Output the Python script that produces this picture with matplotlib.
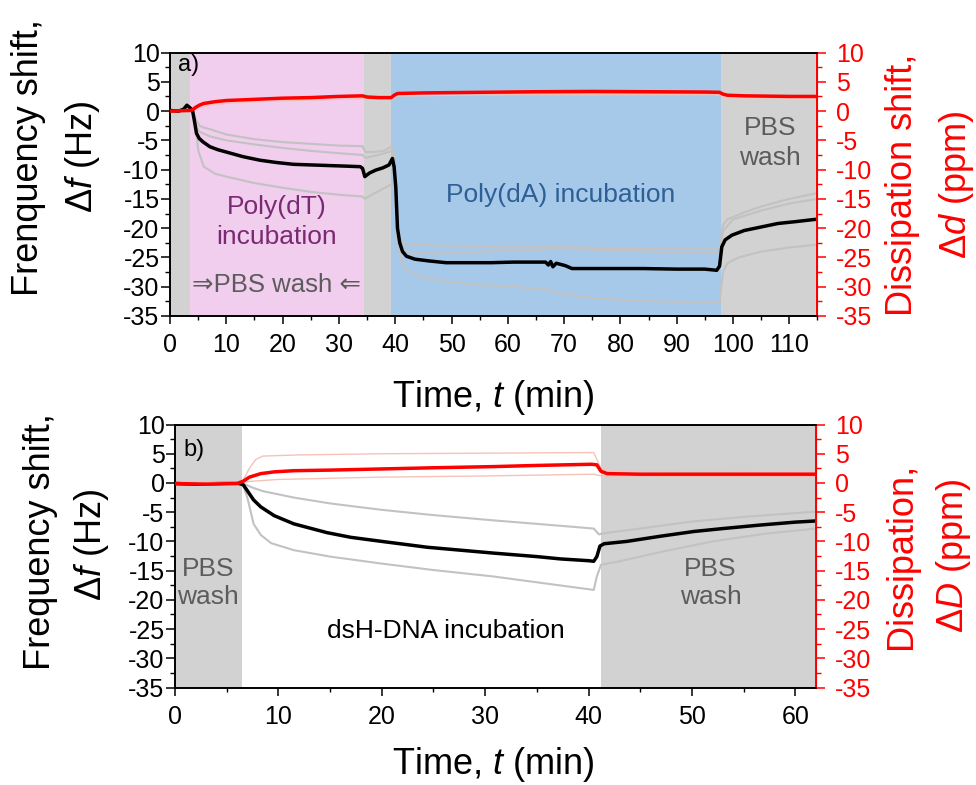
import matplotlib
matplotlib.use("Agg")
import matplotlib.pyplot as plt
from matplotlib.ticker import MultipleLocator

plt.rcParams['font.family'] = ['Liberation Sans', 'DejaVu Sans']
plt.rcParams['mathtext.fontset'] = 'custom'
plt.rcParams['mathtext.rm'] = 'Liberation Sans'
plt.rcParams['mathtext.it'] = 'Liberation Sans:italic'
plt.rcParams['axes.unicode_minus'] = False

# ---- panel a) data (time in min, df in Hz, dd in ppm) ----
a_phases = [(0, 3.5, 'gray'), (3.5, 34.4, 'pink'), (34.4, 39.3, 'gray'),
            (39.3, 97.8, 'blue'), (97.8, 115, 'gray')]

a_t_f = [0, 1.5, 2.4, 3.0, 3.5, 4.0, 4.3, 4.7, 5.2, 5.9, 7.1, 8.5, 10, 13, 16, 19, 22, 25,
         28, 31, 33.8, 34.2, 34.6, 35.4, 36.5, 37.8, 38.9, 39.5, 39.8, 40.1, 40.4, 40.8,
         41.3, 42, 43.5, 46, 49, 53, 57, 61, 64, 66.7, 67.2, 67.6, 68.0, 68.6, 69.4, 70.2,
         71.4, 74, 78, 84, 90, 95, 97.1, 97.6, 98.0, 98.6, 99.8, 102, 105, 108, 111, 114.6, 115]
a_f = [0.1, 0.0, 0.3, 1.0, 0.6, 0.1, -1.5, -3.8, -4.7, -5.3, -6.1, -6.6, -7.0, -7.8, -8.4,
       -8.8, -9.1, -9.2, -9.3, -9.4, -9.5, -9.8, -11.2, -10.6, -10.1, -9.7, -9.2, -8.1,
       -9.5, -13, -20, -22.5, -24.0, -24.8, -25.3, -25.6, -25.9, -25.9, -25.9, -25.8,
       -25.8, -25.8, -26.3, -25.7, -26.6, -26.0, -26.2, -26.4, -26.9, -26.9, -26.9, -26.9,
       -27.0, -27.0, -27.2, -26.5, -23.2, -22.0, -21.2, -20.4, -19.8, -19.2, -18.9, -18.5, -18.5]

a_t_g1 = [0, 3.5, 4.0, 4.6, 5.2, 5.9, 7.1, 10, 15, 20, 25, 30, 34.2, 34.7, 36, 38, 39.5,
          39.9, 40.4, 40.8, 42, 50, 60, 70, 80, 90, 97.6, 98.2, 99, 102, 105, 110, 115]
a_g1 = [0.0, 0.3, 0.0, -1.5, -2.5, -2.8, -3.1, -4.0, -4.8, -5.3, -5.6, -5.9, -6.0, -7.0,
        -7.0, -6.8, -6.0, -8, -20, -22.0, -22.8, -23.0, -23.2, -23.3, -23.4, -23.4, -23.4,
        -19.5, -18.5, -17.3, -16.3, -15.0, -14.0]

a_t_g2 = [0, 4.0, 4.6, 5.2, 7, 10, 15, 20, 25, 30, 34.2, 34.7, 37, 39.5, 39.9, 40.4, 41,
          43, 50, 60, 70, 80, 90, 97.6, 98.2, 100, 105, 110, 115]
a_g2 = [0.0, 0.0, -2.5, -3.5, -4.3, -5.0, -5.7, -6.3, -6.8, -7.2, -7.5, -8.0, -7.5, -6.8,
        -9, -21, -23.5, -24.3, -24.3, -23.8, -23.5, -23.8, -24.2, -24.3, -20.5, -18.5,
        -17.0, -15.8, -15.0]

a_t_g3 = [0, 4.0, 4.5, 5.0, 6.0, 8, 10, 15, 20, 25, 30, 34.2, 34.6, 36, 38, 39.5, 39.9,
          40.4, 41, 42, 44, 49, 55, 60, 66, 70, 75, 80, 90, 97.6, 98.2, 99, 101, 105, 110, 115]
a_g3 = [0.0, 0.0, -1.5, -6.7, -9.5, -10.7, -11.2, -12.3, -13.1, -13.8, -14.3, -14.6, -15.0,
        -14.2, -13.2, -12.4, -14, -22, -25.4, -27.0, -28.2, -29.1, -29.7, -30.0, -30.3,
        -31.3, -31.9, -32.3, -32.6, -32.7, -27.5, -26.0, -25.0, -24.0, -23.3, -22.8]

a_t_d = [0, 3.5, 4.0, 4.5, 5.2, 6, 8, 10, 15, 20, 25, 30, 34.2, 35, 37, 39.3, 39.8, 40.4,
         45, 55, 65, 75, 85, 95, 97.6, 98.2, 99, 102, 110, 115]
a_d = [0.0, 0.1, 0.2, 0.6, 1.0, 1.3, 1.6, 1.8, 2.0, 2.2, 2.3, 2.5, 2.6, 2.4, 2.3, 2.3, 2.7,
       3.0, 3.1, 3.2, 3.3, 3.35, 3.3, 3.25, 3.2, 2.9, 2.7, 2.6, 2.5, 2.5]

a_t_d2 = [0, 4.0, 5.0, 8, 15, 25, 34.2, 39.3, 40.4, 60, 97.6, 98.4, 115]
a_d2 = [0.0, 0.1, 0.6, 1.2, 1.6, 1.9, 2.1, 2.0, 2.6, 2.8, 2.8, 2.3, 2.2]

# ---- panel b) data ----
b_phases = [(0, 6.5, 'gray'), (41.2, 62, 'gray')]

b_t_f = [0, 2, 4, 6.0, 6.6, 7.1, 7.6, 8.3, 9.6, 11.5, 14.7, 17, 20, 24.4, 30.8, 35, 37.3,
         40.0, 40.5, 40.8, 41.1, 41.5, 43.7, 47, 50.2, 53, 56.6, 60, 62]
b_f = [-0.1, -0.2, -0.1, 0.0, -0.3, -1.6, -2.9, -4.1, -5.6, -7.0, -8.5, -9.3, -10.0, -11.0,
       -12.0, -12.6, -13.0, -13.3, -13.4, -12.6, -10.8, -10.4, -10.0, -9.1, -8.3, -7.8,
       -7.2, -6.7, -6.5]

b_t_g1 = [0, 6.5, 7.5, 8.5, 11.5, 15, 20, 25, 30.8, 35, 40.5, 41.0, 41.5, 45, 50, 55, 62]
b_g1 = [0, 0, -0.8, -1.4, -2.5, -3.5, -4.6, -5.5, -6.4, -7.0, -7.8, -8.8, -8.6, -7.8,
        -6.6, -5.8, -4.9]

b_t_g2 = [0, 6.5, 7.0, 7.6, 8.3, 9.3, 11.5, 15, 20, 25, 30.8, 35, 40.5, 40.8, 41.2, 43,
          47, 52, 57, 62]
b_g2 = [0, 0, -2.5, -7.0, -8.9, -10.3, -11.5, -12.6, -13.8, -14.9, -16.0, -17.0, -18.3,
        -16, -14.0, -13.4, -11.8, -10.0, -8.7, -7.8]

b_t_d = [0, 3, 6.0, 6.6, 7.2, 8.3, 9.6, 11.5, 15, 20, 25, 30.8, 35, 40.3, 40.8, 41.2, 41.8,
         45, 62]
b_d = [-0.1, -0.2, -0.1, 0.3, 1.0, 1.6, 1.9, 2.1, 2.2, 2.4, 2.6, 2.8, 3.0, 3.2, 3.1, 2.0,
       1.6, 1.5, 1.5]

b_t_d2 = [0, 6.5, 7.2, 7.8, 8.5, 12, 20, 30, 40.5, 41.2, 42, 62]
b_d2 = [0, 0.2, 2.5, 4.0, 4.6, 4.8, 5.0, 5.1, 5.2, 2.5, 2.0, 1.8]
b_t_d3 = [0, 6.5, 7.5, 10, 20, 30, 40.5, 41.2, 42, 62]
b_d3 = [-0.1, 0.1, 0.3, 0.6, 1.0, 1.2, 1.5, 1.2, 1.2, 1.1]

phase_colors = {'gray': '#d2d2d2', 'pink': '#f1cdee', 'blue': '#a6c9ea'}
RED = '#ff0000'
REP_GRAY = '#c2c2c2'
REP_RED = '#f6c2b8'
WASH_TXT = '#5c5c5c'


def style_axes(ax, ax2, xmax):
    ax.set_xlim(0, xmax)
    ax.set_ylim(-35, 10)
    ax2.set_ylim(-35, 10)
    ax.xaxis.set_major_locator(MultipleLocator(10))
    ax.xaxis.set_minor_locator(MultipleLocator(5))
    for a in (ax, ax2):
        a.yaxis.set_major_locator(MultipleLocator(5))
        a.yaxis.set_minor_locator(MultipleLocator(2.5))
    ax.tick_params(axis='y', which='major', direction='out', length=6.5, width=1.1,
                   labelsize=18, pad=1)
    ax.tick_params(axis='y', which='minor', direction='out', length=3.5, width=1.0)
    ax.tick_params(axis='x', which='major', direction='out', length=5.5, width=1.1,
                   labelsize=18, pad=7)
    ax.tick_params(axis='x', which='minor', direction='out', length=3, width=1.0)
    ax2.tick_params(axis='y', which='major', direction='out', length=6.5, width=1.1,
                    labelsize=18, pad=7, colors=RED)
    ax2.tick_params(axis='y', which='minor', direction='out', length=3.5, width=1.0,
                    colors=RED)
    for s in ('left', 'top', 'bottom'):
        ax.spines[s].set_linewidth(1.2)
        ax2.spines[s].set_linewidth(1.2)
    ax2.spines['right'].set_color(RED)
    ax2.spines['right'].set_linewidth(1.4)


fig = plt.figure(figsize=(9.76, 7.85), dpi=100)

# ---------------- panel a ----------------
ax = fig.add_axes([0.1742, 0.5975, 0.6634, 0.3356])
ax2 = ax.twinx()
for x0, x1, c in a_phases:
    ax.axvspan(x0, x1, color=phase_colors[c], lw=0, zorder=0)
for tt, vv in ((a_t_g1, a_g1), (a_t_g2, a_g2), (a_t_g3, a_g3)):
    ax.plot(tt, vv, color=REP_GRAY, lw=1.5, zorder=2)
ax.plot(a_t_f, a_f, color='black', lw=2.5, zorder=3)
ax2.plot(a_t_d2, a_d2, color=REP_RED, lw=1.0, zorder=2)
ax2.plot(a_t_d, a_d, color=RED, lw=2.5, zorder=3)
style_axes(ax, ax2, 115)

ax.text(0.012, 0.951, 'a)', transform=ax.transAxes, fontsize=17, ha='left', va='center')
ax.text(19, -19.0, 'Poly(dT)\nincubation', fontsize=19, color='#7a2a72', ha='center',
        va='center', linespacing=1.3)
ax.text(19, -29.7, '\u21d2PBS wash \u21d0', fontsize=18.5, color=WASH_TXT, ha='center',
        va='center')
ax.text(69.3, -14.4, 'Poly(dA) incubation', fontsize=19, color='#2e5f95', ha='center',
        va='center')
ax.text(106.5, -5.5, 'PBS\nwash', fontsize=19, color=WASH_TXT, ha='center',
        va='center', linespacing=1.3)

fig.text(0.0297, 0.800, 'Frenquency shift,', rotation=90, fontsize=26, ha='center',
         va='center')
fig.text(0.085, 0.800, r'$\mathit{\Delta f}$ (Hz)', rotation=90, fontsize=26,
         ha='center', va='center')
fig.text(0.925, 0.764, 'Dissipation shift,', rotation=90, fontsize=26, ha='center',
         va='center', color=RED)
fig.text(0.9805, 0.764, r'$\mathit{\Delta d}$ (ppm)', rotation=90, fontsize=26,
         ha='center', va='center', color=RED)
fig.text(0.505, 0.494, r'Time, $\mathit{t}$ (min)', fontsize=26, ha='center', va='center')

# ---------------- panel b ----------------
bx = fig.add_axes([0.1793, 0.1242, 0.6568, 0.335])
bx2 = bx.twinx()
for x0, x1, c in b_phases:
    bx.axvspan(x0, x1, color=phase_colors[c], lw=0, zorder=0)
for tt, vv in ((b_t_g1, b_g1), (b_t_g2, b_g2)):
    bx.plot(tt, vv, color=REP_GRAY, lw=1.5, zorder=2)
bx.plot(b_t_f, b_f, color='black', lw=2.5, zorder=3)
bx2.plot(b_t_d2, b_d2, color=REP_RED, lw=1.0, zorder=2)
bx2.plot(b_t_d3, b_d3, color=REP_RED, lw=1.0, zorder=2)
bx2.plot(b_t_d, b_d, color=RED, lw=2.5, zorder=3)
style_axes(bx, bx2, 62)

bx.text(0.0125, 0.905, 'b)', transform=bx.transAxes, fontsize=17, ha='left', va='center')
bx.text(3.2, -17.1, 'PBS\nwash', fontsize=19, color=WASH_TXT, ha='center', va='center',
        linespacing=1.2)
bx.text(51.8, -17.1, 'PBS\nwash', fontsize=19, color=WASH_TXT, ha='center',
        va='center', linespacing=1.25)
bx.text(26.2, -25.4, 'dsH-DNA incubation', fontsize=19, color='black', ha='center',
        va='center')

fig.text(0.041, 0.3096, 'Frequency shift,', rotation=90, fontsize=26, ha='center',
         va='center')
fig.text(0.094, 0.306, r'$\mathit{\Delta f}$ (Hz)', rotation=90, fontsize=26,
         ha='center', va='center')
fig.text(0.924, 0.2917, 'Dissipation,', rotation=90, fontsize=26, ha='center',
         va='center', color=RED)
fig.text(0.977, 0.2917, r'$\mathit{\Delta D}$ (ppm)', rotation=90, fontsize=26,
         ha='center', va='center', color=RED)
fig.text(0.505, 0.0255, r'Time, $\mathit{t}$ (min)', fontsize=26, ha='center',
         va='center')

fig.savefig('out.png', dpi=100)
plt.close(fig)
